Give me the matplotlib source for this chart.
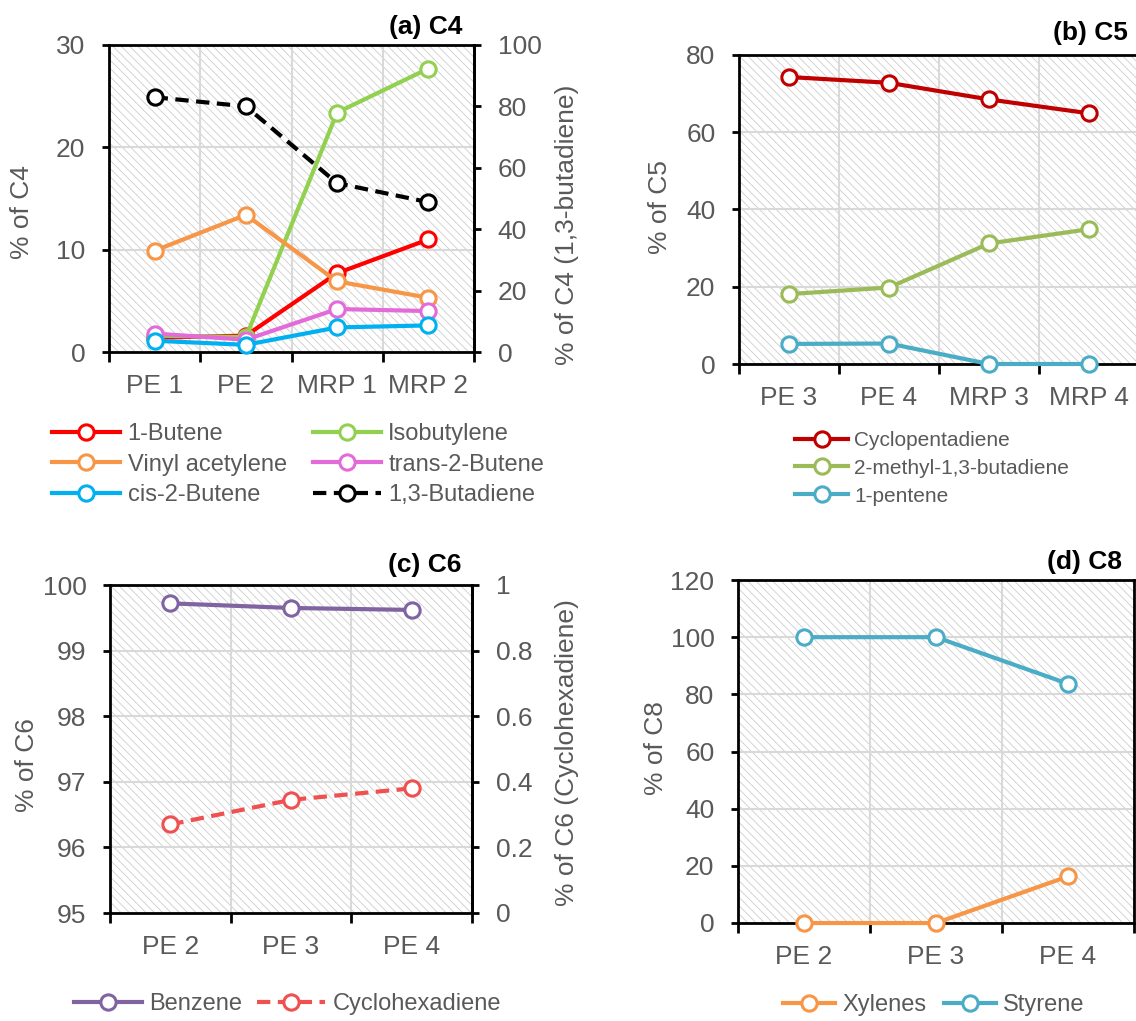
import matplotlib
matplotlib.use('Agg')
import matplotlib.pyplot as plt
from matplotlib.patches import Rectangle
from matplotlib.ticker import FuncFormatter
import numpy as np

plt.rcParams['font.family'] = ['Liberation Sans', 'DejaVu Sans']
plt.rcParams['hatch.linewidth'] = 0.6

# ---------------- data ----------------
c4_samples = ['PE 1', 'PE 2', 'MRP 1', 'MRP 2']
butene_1 = [1.4, 1.6, 7.7, 11.0]
isobutylene = [1.6, 1.45, 23.4, 27.7]
vinyl_acetylene = [9.9, 13.4, 6.9, 5.3]
trans_2_butene = [1.8, 1.2, 4.2, 4.0]
cis_2_butene = [1.1, 0.7, 2.4, 2.6]
butadiene_13 = [83.0, 80.0, 55.0, 48.8]

c5_samples = ['PE 3', 'PE 4', 'MRP 3', 'MRP 4']
cyclopentadiene = [74.3, 72.8, 68.5, 64.9]
methyl_butadiene = [18.1, 19.8, 31.2, 34.9]
pentene_1 = [5.2, 5.3, 0.0, 0.0]

c6_samples = ['PE 2', 'PE 3', 'PE 4']
benzene = [99.72, 99.65, 99.62]
cyclohexadiene = [0.27, 0.345, 0.38]

c8_samples = ['PE 2', 'PE 3', 'PE 4']
xylenes = [0.0, 0.0, 16.3]
styrene = [100.0, 100.0, 83.7]

# ---------------- style ----------------
W, H = 1136, 1021
TXT = '#595959'
GRID = '#d9d9d9'
TICK_FS = 19
LAB_FS = 19
TITLE_FS = 19
LW = 3.0
MS = 11
MEW = 2.2

fig = plt.figure(figsize=(W / 100, H / 100), dpi=100)


def make_ax(l, r, t, b):
    return fig.add_axes([l / W, 1 - b / H, (r - l) / W, (b - t) / H])


def fmt(v, p):
    return '%g' % round(v, 6)


def style_ax(ax, labels, ylim, ystep, right_spine=True):
    n = len(labels)
    ax.set_xlim(-0.5, n - 0.5)
    ax.set_ylim(*ylim)
    ax.set_xticks(np.arange(n + 1) - 0.5)
    ax.set_xticklabels([])
    ax.set_xticks(np.arange(n), minor=True)
    ax.set_xticklabels(labels, minor=True)
    ax.set_yticks(np.arange(ylim[0], ylim[1] + ystep / 2, ystep))
    ax.yaxis.set_major_formatter(FuncFormatter(fmt))
    ax.tick_params(axis='x', which='major', direction='out', length=7, width=2, color='black')
    ax.tick_params(axis='x', which='minor', length=0, pad=16, labelsize=TICK_FS, labelcolor=TXT)
    ax.tick_params(axis='y', which='major', direction='out', length=5, width=2,
                   pad=12, labelsize=TICK_FS, labelcolor=TXT, color='black')
    for s in ['left', 'bottom', 'top', 'right']:
        ax.spines[s].set_linewidth(2)
        ax.spines[s].set_color('black')
    ax.spines['right'].set_visible(right_spine)
    ax.set_axisbelow(True)
    ax.grid(True, which='major', color=GRID, lw=1.5)
    ax.add_patch(Rectangle((0, 0), 1, 1, transform=ax.transAxes, facecolor='white',
                           edgecolor='#cdcdcd', hatch='\\\\\\\\', linewidth=0, zorder=0))


def style_twin(axt, ylim, ystep):
    axt.set_ylim(*ylim)
    axt.set_yticks(np.arange(ylim[0], ylim[1] + ystep / 2, ystep))
    axt.yaxis.set_major_formatter(FuncFormatter(fmt))
    for s in ['left', 'top', 'bottom']:
        axt.spines[s].set_visible(False)
    axt.spines['right'].set_linewidth(2)
    axt.tick_params(axis='y', direction='out', length=5, width=2, pad=12,
                    labelsize=TICK_FS, labelcolor=TXT)


def line(ax, y, color, label, dashed=False, z=3):
    x = np.arange(len(y))
    kw = dict(color=color, lw=LW, marker='o', ms=MS, mfc='white', mec=color,
              mew=MEW, label=label, clip_on=False, zorder=z)
    if dashed:
        kw['dashes'] = (3.2, 1.8)
    return ax.plot(x, y, **kw)[0]


def ylabel(ax, text, xpx, ypx, l, r, t, b):
    ax.set_ylabel(text, fontsize=LAB_FS, color=TXT)
    ax.yaxis.label.set_va('center')
    ax.yaxis.set_label_coords((xpx - l) / (r - l), (b - ypx) / (b - t))


def title(ax, text, xpx, ypx, l, r, t, b):
    ax.text((xpx - l) / (r - l), (b - ypx) / (b - t), text, transform=ax.transAxes,
            ha='right', va='center', fontsize=TITLE_FS, fontweight='bold', color='black')


def legend(handles, x, y, ncol, fs, hl, cs, ls):
    fig.legend(handles=handles, loc='upper left', bbox_to_anchor=(x / W, 1 - y / H),
               ncol=ncol, frameon=False, fontsize=fs, labelcolor=TXT,
               handlelength=hl, handletextpad=0.3, columnspacing=cs,
               labelspacing=ls, borderpad=0, borderaxespad=0)


# ---------------- (a) C4 ----------------
A = (109, 474, 45, 352)
ax = make_ax(*A)
style_ax(ax, c4_samples, (0, 30), 10)
h1 = line(ax, butene_1, '#ff0000', '1-Butene', z=3)
h2 = line(ax, isobutylene, '#92d050', 'Isobutylene', z=4)
h3 = line(ax, vinyl_acetylene, '#f79646', 'Vinyl acetylene', z=5)
h4 = line(ax, trans_2_butene, '#e36bd9', 'trans-2-Butene', z=6)
h5 = line(ax, cis_2_butene, '#00b0f0', 'cis-2-Butene', z=7)
ax2 = ax.twinx()
style_twin(ax2, (0, 100), 20)
h6 = line(ax2, butadiene_13, 'black', '1,3-Butadiene', dashed=True)
ylabel(ax, '% of C4', 22, 212, *A)
ylabel(ax2, '% of C4 (1,3-butadiene)', 567, 225, *A)
title(ax, '(a) C4', 462, 27, *A)
legend([h1, h3, h5, h2, h4, h6], 52, 423, 2, 17, 2.9, 1.1, 0.36)

# ---------------- (b) C5 ----------------
B = (739, 1139, 55, 364)
ax = make_ax(*B)
style_ax(ax, c5_samples, (0, 80), 20)
g1 = line(ax, cyclopentadiene, '#c00000', 'Cyclopentadiene')
g2 = line(ax, methyl_butadiene, '#9bbb59', '2-methyl-1,3-butadiene')
g3 = line(ax, pentene_1, '#4bacc6', '1-pentene')
ylabel(ax, '% of C5', 660, 207, *B)
title(ax, '(b) C5', 1128, 33, *B)
legend([g1, g2, g3], 795, 431, 1, 15, 2.55, 1.0, 0.42)

# ---------------- (c) C6 ----------------
C = (110, 472, 585, 913)
ax = make_ax(*C)
style_ax(ax, c6_samples, (95, 100), 1)
k1 = line(ax, benzene, '#8064a2', 'Benzene')
ax3 = ax.twinx()
style_twin(ax3, (0, 1), 0.2)
k2 = line(ax3, cyclohexadiene, '#ef5050', 'Cyclohexadiene', dashed=True)
ylabel(ax, '% of C6', 27, 765, *C)
ylabel(ax3, '% of C6 (Cyclohexadiene)', 567, 753, *C)
title(ax, '(c) C6', 462, 565, *C)
legend([k1, k2], 74, 993, 2, 17, 2.9, 0.6, 0.2)

# ---------------- (d) C8 ----------------
D = (738, 1134, 580, 923)
ax = make_ax(*D)
style_ax(ax, c8_samples, (0, 120), 20)
m1 = line(ax, xylenes, '#f79646', 'Xylenes')
m2 = line(ax, styrene, '#4bacc6', 'Styrene')
ylabel(ax, '% of C8', 656, 748, *D)
title(ax, '(d) C8', 1122, 562, *D)
legend([m1, m2], 783, 994, 2, 17, 2.2, 0.75, 0.2)

fig.savefig('out.png', dpi=100)
